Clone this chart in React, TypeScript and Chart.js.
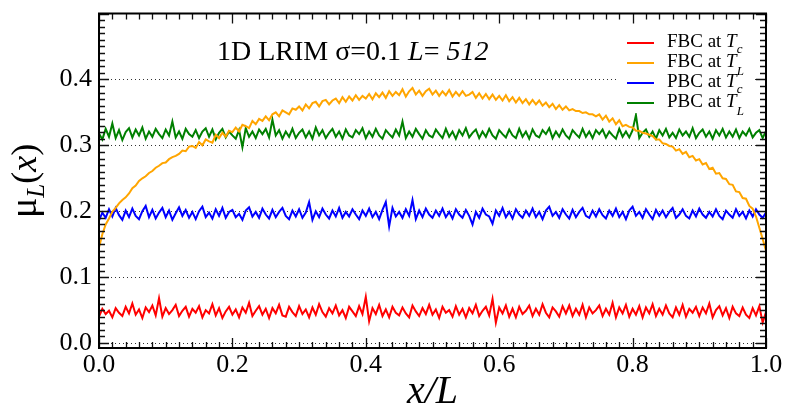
import React, { useEffect, useRef } from "react";
import { Chart, registerables } from "chart.js";

Chart.register(...registerables);

// lattice positions x/L (201 sampled sites)
const NSTEPS = 200;
const xPositions: number[] = Array.from({ length: NSTEPS + 1 }, (_, i) => i / NSTEPS);

const xTickValues = [0, 0.2, 0.4, 0.6, 0.8, 1.0];
const yTickValues = [0, 0.1, 0.2, 0.3, 0.4];

const seriesNames = ["FBC at ", "FBC at ", "PBC at ", "PBC at "];
const seriesSubs = ["c", "L", "c", "L"];
const seriesColors = ["#ff0000", "#ffa500", "#0000ff", "#008000"];

const fbcTc = [
  .040, .052, .044, .049, .039, .053, .046, .041, .055, .045,
  .060, .043, .051, .038, .054, .047, .057, .042, .068, .040,
  .053, .044, .050, .058, .041, .049, .055, .040, .052, .046,
  .056, .039, .050, .045, .059, .042, .053, .038, .048, .055,
  .043, .051, .039, .054, .046, .061, .041, .049, .056, .043,
  .052, .038, .053, .045, .058, .042, .040, .055, .047, .041,
  .056, .044, .051, .039, .054, .043, .059, .047, .040, .053,
  .045, .057, .042, .050, .038, .055, .048, .041, .056, .044,
  .070, .033, .053, .044, .058, .041, .051, .039, .055, .046,
  .042, .054, .045, .039, .057, .048, .041, .053, .044, .058,
  .043, .051, .038, .055, .046, .050, .040, .056, .043, .052,
  .039, .053, .045, .058, .041, .049, .055, .042, .067, .031,
  .054, .045, .057, .040, .052, .039, .055, .044, .049, .057,
  .041, .052, .043, .059, .046, .039, .054, .048, .040, .056,
  .045, .057, .041, .052, .043, .058, .039, .054, .045, .050,
  .057, .041, .052, .043, .061, .039, .054, .045, .058, .040,
  .052, .043, .056, .039, .054, .045, .059, .041, .052, .043,
  .057, .045, .039, .054, .043, .058, .040, .052, .046, .055,
  .041, .054, .045, .060, .039, .050, .056, .042, .053, .038,
  .055, .045, .041, .054, .043, .038, .053, .042, .056, .031,
  .047,
];

const fbcTL = [
  .145, .165, .180, .189, .199, .205, .212, .217, .221, .227,
  .235, .239, .246, .250, .253, .258, .261, .266, .269, .273,
  .274, .279, .282, .284, .287, .292, .291, .298, .299, .296,
  .305, .300, .309, .306, .304, .316, .311, .319, .313, .322,
  .320, .327, .321, .331, .329, .326, .337, .332, .340, .337,
  .344, .338, .347, .350, .344, .353, .350, .347, .356, .354,
  .359, .353, .362, .356, .364, .366, .359, .367, .369, .362,
  .368, .371, .364, .373, .366, .374, .368, .376, .369, .375,
  .371, .378, .370, .379, .373, .380, .372, .382, .375, .381,
  .376, .385, .374, .382, .387, .377, .383, .375, .382, .386,
  .377, .383, .375, .382, .376, .384, .374, .381, .375, .382,
  .375, .377, .381, .372, .379, .371, .378, .370, .377, .369,
  .375, .368, .376, .367, .373, .365, .372, .364, .370, .362,
  .369, .362, .368, .360, .365, .358, .363, .355, .361, .354,
  .359, .353, .355, .352, .352, .349, .350, .347, .347, .344,
  .347, .339, .345, .336, .341, .332, .338, .329, .331, .328,
  .327, .322, .322, .319, .318, .316, .314, .309, .309, .303,
  .302, .299, .298, .292, .294, .287, .290, .282, .284, .277,
  .279, .271, .273, .264, .266, .257, .258, .250, .249, .241,
  .240, .230, .229, .220, .219, .208, .204, .192, .175, .158,
  .140,
];

const pbcTc = [
  .186, .198, .190, .203, .192, .205, .194, .187, .201, .191,
  .204, .193, .188, .200, .208, .191, .202, .189, .198, .205,
  .191, .201, .187, .197, .206, .193, .202, .190, .199, .188,
  .200, .207, .191, .198, .189, .203, .193, .205, .190, .199,
  .202, .191, .196, .187, .201, .206, .192, .199, .190, .204,
  .195, .189, .202, .191, .199, .205, .193, .188, .201, .192,
  .203, .190, .198, .214, .187, .200, .191, .204, .195, .189,
  .201, .192, .205, .190, .199, .192, .203, .195, .188, .201,
  .193, .204, .191, .199, .188, .202, .214, .177, .205, .192,
  .199, .190, .203, .193, .217, .188, .201, .191, .204, .195,
  .190, .201, .193, .204, .191, .199, .189, .203, .195, .190,
  .202, .193, .180, .199, .190, .204, .195, .192, .181, .201,
  .193, .205, .191, .199, .189, .203, .195, .190, .201, .193,
  .204, .191, .199, .188, .201, .207, .193, .199, .190, .203,
  .195, .189, .202, .191, .199, .205, .193, .190, .201, .192,
  .203, .194, .189, .201, .193, .204, .191, .199, .188, .201,
  .207, .193, .199, .190, .203, .195, .188, .202, .193, .201,
  .191, .199, .205, .190, .195, .203, .193, .189, .201, .192,
  .204, .195, .190, .199, .192, .203, .193, .188, .201, .195,
  .190, .203, .193, .199, .189, .201, .192, .203, .195, .190,
  .198,
];

const pbcTL = [
  .318, .309, .325, .313, .333, .311, .323, .308, .320, .326,
  .312, .324, .315, .327, .310, .321, .313, .325, .317, .311,
  .324, .315, .336, .312, .321, .310, .325, .317, .313, .323,
  .311, .321, .326, .313, .324, .309, .319, .325, .312, .321,
  .315, .310, .323, .297, .326, .313, .321, .311, .324, .317,
  .325, .312, .339, .315, .323, .310, .321, .313, .325, .311,
  .319, .324, .312, .321, .310, .327, .315, .323, .311, .319,
  .325, .313, .321, .310, .324, .315, .312, .323, .317, .326,
  .311, .321, .313, .325, .315, .310, .323, .317, .312, .324,
  .315, .336, .311, .321, .313, .325, .317, .310, .323, .315,
  .312, .324, .317, .311, .325, .313, .321, .310, .323, .315,
  .326, .312, .319, .324, .311, .321, .313, .325, .315, .310,
  .323, .317, .312, .324, .315, .311, .325, .313, .321, .310,
  .324, .315, .312, .323, .317, .326, .311, .321, .313, .324,
  .315, .310, .323, .317, .312, .325, .313, .321, .311, .323,
  .317, .324, .312, .321, .315, .310, .325, .313, .321, .312,
  .323, .346, .311, .319, .324, .313, .321, .310, .323, .315,
  .325, .312, .319, .311, .324, .315, .321, .313, .326, .311,
  .319, .324, .313, .321, .310, .323, .315, .325, .312, .321,
  .313, .324, .311, .321, .315, .325, .312, .319, .323, .311,
  .322,
];

const seriesValues = [fbcTc, fbcTL, pbcTc, pbcTL];

const SERIF = "'Liberation Serif', 'Times New Roman', serif";

type Seg = { t: string; it?: boolean; size: number; dy?: number };

function drawSegs(ctx: CanvasRenderingContext2D, x: number, y: number, segs: Seg[]) {
  let cx = x;
  for (const s of segs) {
    ctx.font = `${s.it ? "italic " : ""}${s.size}px ${SERIF}`;
    ctx.fillText(s.t, cx, y + (s.dy || 0));
    cx += ctx.measureText(s.t).width;
  }
  return cx;
}

const decorPlugin = {
  id: "decor",
  afterDatasetsDraw(chart: any) {
    const { ctx, chartArea: a } = chart;
    const xs = chart.scales.x;
    const ys = chart.scales.y;
    ctx.save();

    // minor / major ticks, inside, mirrored
    ctx.strokeStyle = "#111";
    ctx.lineWidth = 1.3;
    ctx.beginPath();
    for (let k = 0; k <= 50; k++) {
      const px = Math.round(xs.getPixelForValue(k * 0.02)) + 0.5;
      const len = k % 10 === 0 ? 10 : 6;
      ctx.moveTo(px, a.bottom);
      ctx.lineTo(px, a.bottom - len);
      ctx.moveTo(px, a.top);
      ctx.lineTo(px, a.top + len);
    }
    for (let k = 0; k <= 50; k++) {
      const py = Math.round(ys.getPixelForValue(k * 0.01)) + 0.5;
      if (py < a.top || py > a.bottom) continue;
      const len = k % 10 === 0 ? 10 : 6;
      ctx.moveTo(a.left, py);
      ctx.lineTo(a.left + len, py);
      ctx.moveTo(a.right, py);
      ctx.lineTo(a.right - len, py);
    }
    ctx.stroke();

    // frame
    ctx.strokeStyle = "#000";
    ctx.lineWidth = 2;
    ctx.strokeRect(a.left, a.top, a.right - a.left, a.bottom - a.top);

    // legend
    ctx.fillStyle = "#fff";
    ctx.fillRect(619, 29, 136, 84);
    ctx.textBaseline = "alphabetic";
    ctx.textAlign = "left";
    for (let i = 0; i < seriesNames.length; i++) {
      const by = 47 + i * 20;
      ctx.strokeStyle = seriesColors[i];
      ctx.lineWidth = 2;
      ctx.beginPath();
      ctx.moveTo(627, by - 4);
      ctx.lineTo(654, by - 4);
      ctx.stroke();
      ctx.fillStyle = "#000";
      drawSegs(ctx, 667, by, [
        { t: seriesNames[i], size: 19 },
        { t: "T", it: true, size: 19 },
        { t: seriesSubs[i], it: true, size: 13, dy: seriesSubs[i] === "c" ? 6 : 8 },
      ]);
    }

    // title
    ctx.fillStyle = "#000";
    drawSegs(ctx, 217, 60, [
      { t: "1D LRIM \u03c3=0.1 ", size: 28 },
      { t: "L", it: true, size: 28 },
      { t: "= ", size: 28 },
      { t: "512", it: true, size: 28 },
    ]);

    // x axis title
    ctx.font = `italic 40px ${SERIF}`;
    const xt = "x/L";
    const w = ctx.measureText(xt).width;
    ctx.fillText(xt, (a.left + a.right) / 2 - w / 2, 403);

    // y axis title (rotated)
    ctx.save();
    ctx.translate(36, 218);
    ctx.rotate(-Math.PI / 2);
    drawSegs(ctx, 0, 0, [
      { t: "\u03bc", size: 38 },
      { t: "L", it: true, size: 25, dy: 8 },
      { t: "(", size: 36 },
      { t: "x", it: true, size: 36 },
      { t: ")", size: 36 },
    ]);
    ctx.restore();

    ctx.restore();
  },
};

export default function App() {
  const ref = useRef<HTMLCanvasElement | null>(null);

  useEffect(() => {
    if (!ref.current) return;
    const datasets = seriesValues.map((vals, i) => ({
      label: seriesNames[i] + "T" + seriesSubs[i],
      data: vals.map((v, j) => ({ x: xPositions[j], y: v })),
      borderColor: seriesColors[i],
      backgroundColor: seriesColors[i],
      borderWidth: 2,
      pointRadius: 0,
      tension: 0,
      fill: false,
    }));
    const chart = new Chart(ref.current, {
      type: "line",
      data: { datasets },
      options: {
        responsive: false,
        animation: false,
        events: [],
        layout: { padding: { top: 13.5, right: 20, left: 0, bottom: 0 } },
        plugins: { legend: { display: false }, tooltip: { enabled: false }, title: { display: false } },
        scales: {
          x: {
            type: "linear",
            min: 0,
            max: 1,
            afterBuildTicks: (s: any) => {
              s.ticks = xTickValues.map((v) => ({ value: v }));
            },
            afterFit: (s: any) => {
              s.height = 60;
              s.paddingLeft = 0;
              s.paddingRight = 0;
            },
            grid: { display: false, drawTicks: false },
            border: { display: false },
            ticks: {
              autoSkip: false,
              maxRotation: 0,
              padding: 2,
              color: "#000",
              font: { family: SERIF, size: 26 },
              callback: (v: any) => Number(v).toFixed(1),
            },
          },
          y: {
            type: "linear",
            min: -0.0075,
            max: 0.5,
            afterBuildTicks: (s: any) => {
              s.ticks = yTickValues.map((v) => ({ value: v }));
            },
            afterFit: (s: any) => {
              s.width = 99;
              s.paddingTop = 0;
              s.paddingBottom = 0;
            },
            grid: { display: true, drawTicks: false, color: "#333", lineWidth: 1 },
            border: { display: false, dash: [1, 3] },
            ticks: {
              padding: 7,
              color: "#000",
              font: { family: SERIF, size: 26 },
              callback: (v: any) => Number(v).toFixed(1),
            },
          },
        },
      },
      plugins: [decorPlugin],
    } as any);
    return () => chart.destroy();
  }, []);

  return (
    <div style={{ position: "fixed", left: 0, top: 0, width: 786, height: 408, background: "#fff" }}>
      <canvas ref={ref} width={786} height={408} style={{ display: "block" }} />
    </div>
  );
}
